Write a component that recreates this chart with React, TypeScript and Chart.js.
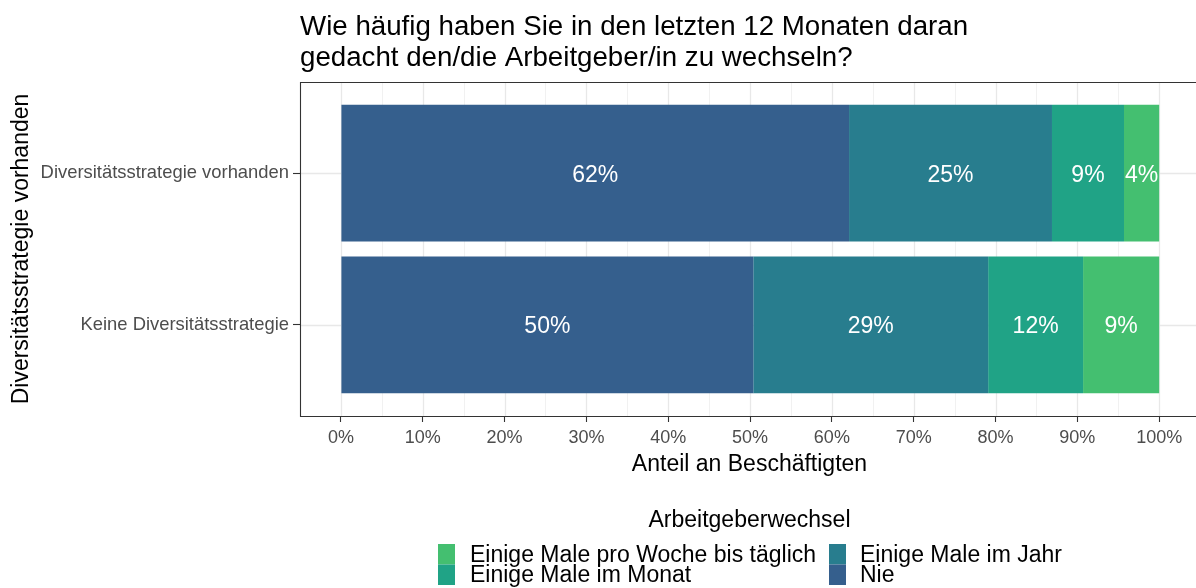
import React, { useEffect, useRef } from 'react';
import { Chart, registerables } from 'chart.js';

Chart.register(...registerables);

const FONT = "'Liberation Sans', Arial, Helvetica, sans-serif";

// ---- data ----
const categories = ['Diversitätsstrategie vorhanden', 'Keine Diversitätsstrategie'];
const categoryPositions = [1, 2];
const seriesNames = ['Nie', 'Einige Male im Jahr', 'Einige Male im Monat', 'Einige Male pro Woche bis täglich'];
const seriesColors = ['#355f8d', '#287d8e', '#20a386', '#44bf70'];
const nieValues = [62.1, 50.4];
const jahrValues = [24.8, 28.7];
const monatValues = [8.8, 11.6];
const wocheValues = [4.3, 9.3];
const xTickValues = [0, 10, 20, 30, 40, 50, 60, 70, 80, 90, 100];
const xMinorValues = [5, 15, 25, 35, 45, 55, 65, 75, 85, 95];
const titleLines = ['Wie häufig haben Sie in den letzten 12 Monaten daran', 'gedacht den/die Arbeitgeber/in zu wechseln?'];
const xAxisTitle = 'Anteil an Beschäftigten';
const yAxisTitle = 'Diversitätsstrategie vorhanden';
const legendTitle = 'Arbeitgeberwechsel';
// legend grid (column-major, like ggplot): indices into series
const legendColumns = [[3, 2], [1, 0]];

const seriesValues = [nieValues, jahrValues, monatValues, wocheValues];

const ggPlugin = {
  id: 'ggStyle',
  beforeDatasetsDraw(chart: any) {
    const { ctx, chartArea: a, scales } = chart;
    const x = scales.x;
    const y = scales.y;
    ctx.save();
    ctx.fillStyle = '#ffffff';
    ctx.fillRect(a.left, a.top, a.right - a.left, a.bottom - a.top);
    ctx.strokeStyle = '#f1f1f1';
    ctx.lineWidth = 1;
    for (const v of xMinorValues) {
      const px = Math.round(x.getPixelForValue(v)) + 0.5;
      ctx.beginPath();
      ctx.moveTo(px, a.top);
      ctx.lineTo(px, a.bottom);
      ctx.stroke();
    }
    ctx.strokeStyle = '#e8e8e8';
    ctx.lineWidth = 1.3;
    for (const v of xTickValues) {
      const px = Math.round(x.getPixelForValue(v)) + 0.5;
      ctx.beginPath();
      ctx.moveTo(px, a.top);
      ctx.lineTo(px, a.bottom);
      ctx.stroke();
    }
    for (const v of categoryPositions) {
      const py = Math.round(y.getPixelForValue(v)) + 0.5;
      ctx.beginPath();
      ctx.moveTo(a.left, py);
      ctx.lineTo(a.right, py);
      ctx.stroke();
    }
    ctx.restore();
  },
  afterDatasetsDraw(chart: any) {
    const { ctx, chartArea: a } = chart;
    ctx.save();
    ctx.font = `23px ${FONT}`;
    ctx.fillStyle = '#ffffff';
    ctx.textAlign = 'center';
    ctx.textBaseline = 'alphabetic';
    chart.data.datasets.forEach((ds: any, i: number) => {
      const meta = chart.getDatasetMeta(i);
      meta.data.forEach((bar: any, j: number) => {
        const p = bar.getProps(['x', 'base', 'y'], true);
        const cx = (p.x + p.base) / 2;
        ctx.fillText(Math.round(ds.data[j].x) + '%', cx, p.y + 8.5);
      });
    });
    // panel border (left, top, bottom)
    ctx.strokeStyle = '#333333';
    ctx.lineWidth = 1.1;
    ctx.beginPath();
    ctx.moveTo(a.right, a.top + 0.5);
    ctx.lineTo(a.left + 0.5, a.top + 0.5);
    ctx.lineTo(a.left + 0.5, a.bottom + 0.5);
    ctx.lineTo(a.right, a.bottom + 0.5);
    ctx.stroke();
    ctx.restore();
  },
  afterDraw(chart: any) {
    const { ctx, chartArea: a } = chart;
    ctx.save();
    // title
    ctx.fillStyle = '#000000';
    ctx.font = `27.7px ${FONT}`;
    ctx.textAlign = 'left';
    ctx.textBaseline = 'alphabetic';
    ctx.fillText(titleLines[0], a.left, 35);
    ctx.fillText(titleLines[1], a.left, 66);
    // x axis title
    ctx.font = `23px ${FONT}`;
    ctx.textAlign = 'center';
    ctx.fillText(xAxisTitle, 749.5, 471);
    // y axis title
    ctx.save();
    ctx.translate(28, (a.top + a.bottom) / 2);
    ctx.rotate(-Math.PI / 2);
    ctx.textAlign = 'center';
    ctx.fillText(yAxisTitle, 0, 0);
    ctx.restore();
    // legend
    ctx.textAlign = 'center';
    ctx.fillText(legendTitle, 749.5, 527);
    const keyX = [438, 829];
    const textX = [470, 860];
    const keyY = [544, 564.5];
    const baseY = [561.5, 582];
    ctx.textAlign = 'left';
    legendColumns.forEach((col, c) => {
      col.forEach((si, r) => {
        ctx.fillStyle = seriesColors[si];
        ctx.fillRect(keyX[c], keyY[r], 17, 20.5);
        ctx.fillStyle = '#000000';
        ctx.fillText(seriesNames[si], textX[c], baseY[r]);
      });
    });
    ctx.restore();
  },
};

export default function App() {
  const canvasRef = useRef<HTMLCanvasElement | null>(null);

  useEffect(() => {
    const canvas = canvasRef.current;
    if (!canvas) return;
    const chart = new Chart(canvas, {
      type: 'bar',
      data: {
        datasets: seriesValues.map((vals, i) => ({
          label: seriesNames[i],
          data: vals.map((v, j) => ({ x: v, y: categoryPositions[j] })),
          backgroundColor: seriesColors[i],
          borderWidth: 0,
          categoryPercentage: 0.9,
          barPercentage: 1,
        })),
      },
      options: {
        indexAxis: 'y',
        responsive: false,
        animation: false,
        devicePixelRatio: 1,
        layout: { padding: { top: 82, left: 0, right: 0, bottom: 0 } },
        plugins: {
          legend: { display: false },
          title: { display: false },
          tooltip: { enabled: false },
        },
        scales: {
          x: {
            type: 'linear',
            stacked: true,
            min: -5,
            max: 104.5,
            offset: false,
            afterBuildTicks: (s: any) => {
              s.ticks = xTickValues.map((v) => ({ value: v }));
            },
            afterFit: (s: any) => {
              s.height = 172;
            },
            grid: { color: 'rgba(0,0,0,0)', tickColor: '#333333', tickLength: 6, tickWidth: 1.1, offset: false },
            border: { display: false },
            ticks: {
              font: { family: FONT, size: 18 },
              color: '#4d4d4d',
              padding: 5,
              maxRotation: 0,
              autoSkip: false,
              callback: (v: any) => v + '%',
            },
          },
          y: {
            type: 'linear',
            stacked: true,
            min: 0.4,
            max: 2.6,
            reverse: true,
            offset: false,
            afterBuildTicks: (s: any) => {
              s.ticks = categoryPositions.map((v) => ({ value: v }));
            },
            afterFit: (s: any) => {
              s.width = 300;
            },
            grid: { color: 'rgba(0,0,0,0)', tickColor: '#333333', tickLength: 7, tickWidth: 1.1, offset: false },
            border: { display: false },
            ticks: {
              font: { family: FONT, size: 18.4 },
              color: '#4d4d4d',
              padding: 4,
              autoSkip: false,
              callback: (v: any) => categories[categoryPositions.indexOf(v)],
            },
          },
        },
      } as any,
      plugins: [ggPlugin],
    });
    return () => chart.destroy();
  }, []);

  return (
    <div style={{ position: 'absolute', left: 0, top: 0, width: 1196, height: 588, background: '#fff' }}>
      <canvas ref={canvasRef} width={1196} height={588} style={{ display: 'block', width: 1196, height: 588 }} />
    </div>
  );
}
